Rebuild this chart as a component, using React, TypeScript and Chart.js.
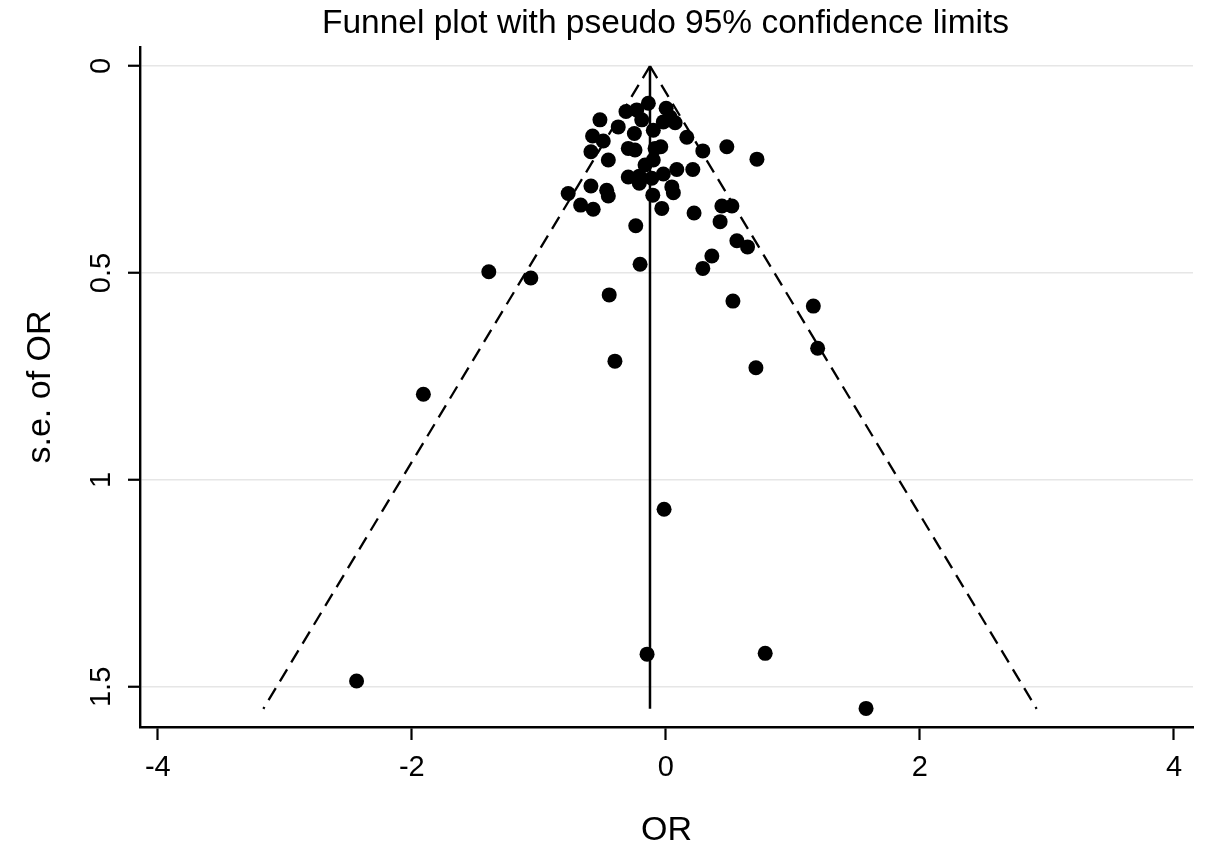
import React, { useEffect, useRef } from "react";
import { Chart, registerables } from "chart.js";

Chart.register(...registerables);

// ---- data ----
const studyOR: number[] = [
  -0.138, -0.314, -0.229, -0.19, 0.002, 0.033, -0.02, 0.073, -0.519, -0.375,
  -0.248, -0.099, -0.577, -0.493, 0.165, 0.48, 0.291, 0.717, -0.59, -0.453,
  -0.296, -0.243, -0.085, -0.04, -0.099, -0.164, 0.086, 0.212, -0.296, -0.209,
  -0.209, -0.111, -0.02, 0.047, 0.059, -0.103, -0.769, -0.59, -0.466, -0.453,
  -0.671, -0.572, -0.032, 0.222, 0.441, 0.52, 0.427, -0.237, 0.362, 0.559,
  0.643, 0.291, -0.203, -0.446, 0.528, -1.394, -1.063, -0.401, 0.709, 1.161,
  1.195, -1.909, -0.014, -0.148, 0.782, -2.435, 1.576,
];
const studySE: number[] = [
  0.09, 0.11, 0.106, 0.13, 0.102, 0.123, 0.135, 0.137, 0.13, 0.147,
  0.163, 0.155, 0.169, 0.181, 0.172, 0.195, 0.205, 0.225, 0.207, 0.227,
  0.199, 0.203, 0.199, 0.195, 0.227, 0.239, 0.25, 0.25, 0.268, 0.266,
  0.283, 0.271, 0.261, 0.292, 0.306, 0.312, 0.308, 0.29, 0.3, 0.314,
  0.336, 0.346, 0.344, 0.355, 0.338, 0.338, 0.376, 0.386, 0.459, 0.422,
  0.437, 0.489, 0.479, 0.553, 0.568, 0.497, 0.512, 0.713, 0.729, 0.58,
  0.682, 0.793, 1.071, 1.421, 1.419, 1.486, 1.552,
];
const pooledOR = -0.125;
const funnelSE: number[] = [0, 1.553];
const zCrit = 1.96;

const xTickValues: number[] = [-4, -2, 0, 2, 4];
const yTickValues: number[] = [0, 0.5, 1, 1.5];
const yTickLabels: string[] = ["0", "0.5", "1", "1.5"];

const titleText = "Funnel plot with pseudo 95% confidence limits";
const xTitle = "OR";
const yTitle = "s.e. of OR";

const FONT = "'Liberation Sans', Arial, Helvetica, sans-serif";

export default function App() {
  const canvasRef = useRef<HTMLCanvasElement | null>(null);

  useEffect(() => {
    document.body.style.margin = "0";
    const canvas = canvasRef.current;
    if (!canvas) return;

    const points = studyOR.map((x, i) => ({ x, y: studySE[i] }));
    const leftLimit = funnelSE.map((s) => ({ x: pooledOR - zCrit * s, y: s }));
    const rightLimit = funnelSE.map((s) => ({ x: pooledOR + zCrit * s, y: s }));
    const centerLine = funnelSE.map((s) => ({ x: pooledOR, y: s }));

    const textPlugin = {
      id: "stataText",
      afterDraw(chart: any) {
        const { ctx, chartArea, scales } = chart;
        ctx.save();
        ctx.fillStyle = "#000";
        // title
        ctx.font = `33.5px ${FONT}`;
        ctx.textAlign = "center";
        ctx.textBaseline = "middle";
        ctx.fillText(titleText, 665.5, 24);
        // rotated y tick labels
        ctx.font = `29px ${FONT}`;
        yTickValues.forEach((v, i) => {
          const py = scales.y.getPixelForValue(v);
          ctx.save();
          ctx.translate(102, py);
          ctx.rotate(-Math.PI / 2);
          ctx.textAlign = "center";
          ctx.textBaseline = "middle";
          ctx.fillText(yTickLabels[i], 0, 0);
          ctx.restore();
        });
        ctx.restore();
      },
    };

    const chart = new Chart(canvas, {
      type: "scatter",
      data: {
        datasets: [
          {
            label: "Studies",
            data: points,
            pointRadius: 7.5,
            pointHoverRadius: 7.5,
            backgroundColor: "#000",
            borderWidth: 0,
            order: 0,
          },
          {
            label: "Lower limit",
            data: leftLimit,
            showLine: true,
            pointRadius: 0,
            borderColor: "#000",
            borderWidth: 2.3,
            borderDash: [14, 8],
            fill: false,
            order: 1,
          },
          {
            label: "Upper limit",
            data: rightLimit,
            showLine: true,
            pointRadius: 0,
            borderColor: "#000",
            borderWidth: 2.3,
            borderDash: [14, 8],
            fill: false,
            order: 1,
          },
          {
            label: "Pooled",
            data: centerLine,
            showLine: true,
            pointRadius: 0,
            borderColor: "#000",
            borderWidth: 2.5,
            fill: false,
            order: 1,
          },
        ],
      },
      options: {
        responsive: false,
        animation: false,
        layout: { padding: { left: 0, right: 12, top: 47, bottom: 0 } },
        plugins: {
          legend: { display: false },
          tooltip: { enabled: false },
          title: { display: false },
        },
        scales: {
          x: {
            type: "linear",
            min: -4.14,
            max: 4.15,
            afterBuildTicks: (scale: any) => {
              scale.ticks = xTickValues.map((v) => ({ value: v }));
            },
            afterFit: (scale: any) => {
              scale.height = 129;
            },
            grid: {
              drawOnChartArea: false,
              drawTicks: true,
              tickLength: 13,
              tickWidth: 2.2,
              tickColor: "#000",
            },
            border: { display: true, color: "#000", width: 2.4 },
            ticks: {
              color: "#000",
              font: { family: FONT, size: 29 },
              padding: 11,
              callback: (v: any) => String(v),
            },
            title: {
              display: true,
              text: xTitle,
              color: "#000",
              font: { family: FONT, size: 34 },
              padding: { top: 0, bottom: 5 },
            },
          },
          y: {
            type: "linear",
            reverse: true,
            min: -0.046,
            max: 1.597,
            afterBuildTicks: (scale: any) => {
              scale.ticks = yTickValues.map((v) => ({ value: v }));
            },
            afterFit: (scale: any) => {
              scale.width = 140;
            },
            grid: {
              drawOnChartArea: true,
              color: "#e6e6e6",
              lineWidth: 1.5,
              drawTicks: true,
              tickLength: 12,
              tickWidth: 2.2,
              tickColor: "#000",
            },
            border: { display: true, color: "#000", width: 2.4 },
            ticks: { display: false },
            title: {
              display: true,
              text: yTitle,
              color: "#000",
              font: { family: FONT, size: 34 },
              padding: { top: 20, bottom: 0 },
            },
          },
        },
      },
      plugins: [textPlugin],
    });

    return () => {
      chart.destroy();
    };
  }, []);

  return (
    <div style={{ position: "absolute", left: 0, top: 0, width: 1205, height: 856, background: "#fff" }}>
      <canvas ref={canvasRef} width={1205} height={856} style={{ display: "block" }} />
    </div>
  );
}
